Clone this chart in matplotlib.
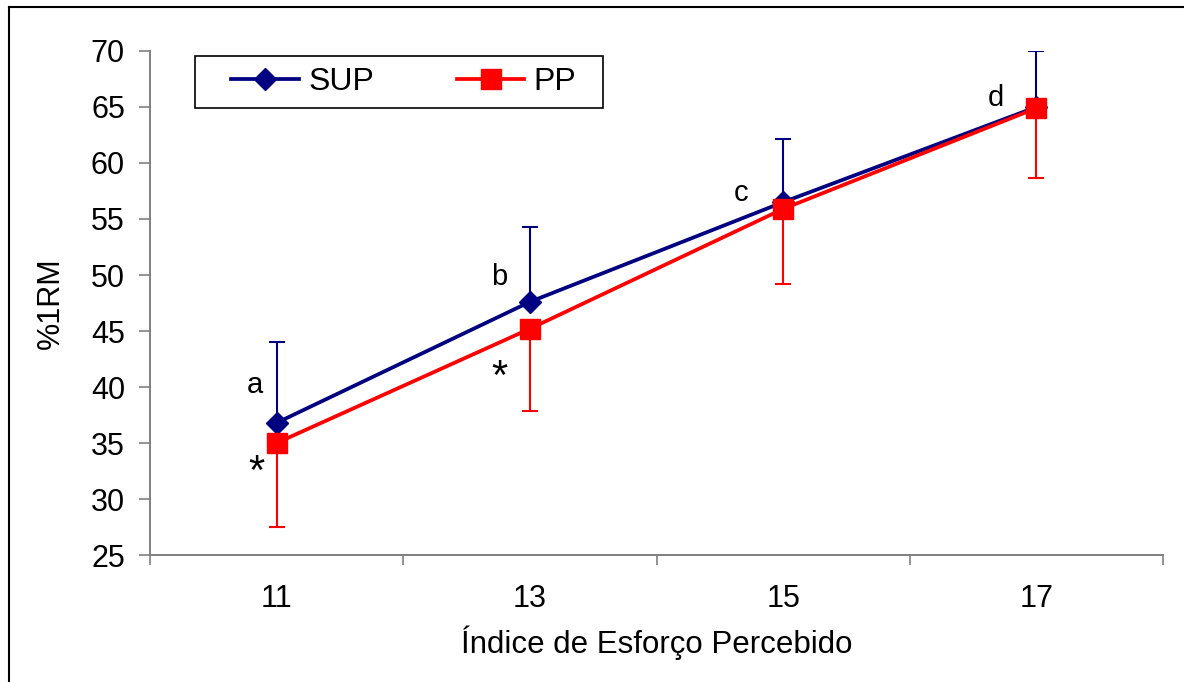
import matplotlib
matplotlib.use("Agg")
import matplotlib.pyplot as plt
from matplotlib.lines import Line2D
from matplotlib.patches import Rectangle
import numpy as np

plt.rcParams['font.family'] = ['Liberation Sans', 'DejaVu Sans']

categories = ["11", "13", "15", "17"]
sup_mean = [36.8, 47.6, 56.5, 65.0]
sup_sd = [7.2, 6.7, 5.6, 5.0]
pp_mean = [35.0, 45.2, 55.9, 64.9]
pp_sd = [7.5, 7.3, 6.7, 6.2]
letters = ["a", "b", "c", "d"]
letter_y = [40.2, 49.8, 57.3, 65.8]
star_idx = [0, 1]
star_y = [32.3, 40.8]

letter_dx = [-0.087, -0.12, -0.165, -0.16]
star_dx = [-0.08, -0.12]

fig = plt.figure(figsize=(11.84, 6.82), dpi=100)
ax = fig.add_axes([150/1184, 1-555/682, (1163-150)/1184, (555-51)/682])

x = np.arange(len(categories))
navy = "#000080"
red = "#FF0000"

ax.errorbar(x, sup_mean, yerr=[np.zeros(4), sup_sd], color=navy, lw=0, elinewidth=1.5,
            capsize=6, capthick=1.5, zorder=2)
ax.errorbar(x, pp_mean, yerr=[pp_sd, np.zeros(4)], color=red, lw=0, elinewidth=1.5,
            capsize=6, capthick=1.5, zorder=2)
l1, = ax.plot(x, sup_mean, color=navy, lw=2.7, marker="D", ms=11, mfc=navy, mec=navy, zorder=3, label="SUP")
l2, = ax.plot(x, pp_mean, color=red, lw=2.7, marker="s", ms=14, mfc=red, mec=red, zorder=4, label="PP")

for i, (t, yy) in enumerate(zip(letters, letter_y)):
    ax.text(i + letter_dx[i], yy, t, fontsize=21, ha="center", va="center", color="black")
for k, (i, yy) in enumerate(zip(star_idx, star_y)):
    ax.text(i + star_dx[k], yy, "*", fontsize=30, ha="center", va="center", color="black")

ax.set_xlim(-0.5, 3.5)
ax.set_ylim(25, 70)
ax.set_yticks(np.arange(25, 71, 5))
ax.set_xticks(x)
ax.set_xticklabels(categories)
ax.set_xticks(np.arange(-0.5, 3.6, 1), minor=True)
ax.tick_params(axis="x", which="major", length=0, labelsize=22, pad=21)
ax.tick_params(axis="x", which="minor", length=7, width=1.2, color="#808080")
ax.tick_params(axis="y", length=8, width=1.2, color="#808080", labelsize=22, pad=10)
for s in ["top", "right"]:
    ax.spines[s].set_visible(False)
for s in ["left", "bottom"]:
    ax.spines[s].set_color("#808080")
    ax.spines[s].set_linewidth(1.4)

ax.set_xlabel("Índice de Esforço Percebido", fontsize=22.5, labelpad=8)
ax.set_ylabel("%1RM", fontsize=22, labelpad=18)

# legend box
fig.add_artist(Rectangle((195/1184, 1-108/682), (603-195)/1184, 52/682, transform=fig.transFigure,
                         facecolor="white", edgecolor="black", lw=1.2, zorder=5))
leg = fig.legend(handles=[l1, l2], loc="center",
                 bbox_to_anchor=(404/1184, 1-82/682), ncol=2, fontsize=23,
                 frameon=False, handlelength=2.1, handletextpad=0.3,
                 columnspacing=2.6, borderpad=0.2, borderaxespad=0)
leg.set_zorder(6)

# outer frame
fig.add_artist(Line2D([9/1184, 9/1184], [0, 1-7/682], color="black", lw=1.5, transform=fig.transFigure))
fig.add_artist(Line2D([9/1184, 1], [1-7/682, 1-7/682], color="black", lw=1.5, transform=fig.transFigure))

fig.savefig("out.png", dpi=100)
